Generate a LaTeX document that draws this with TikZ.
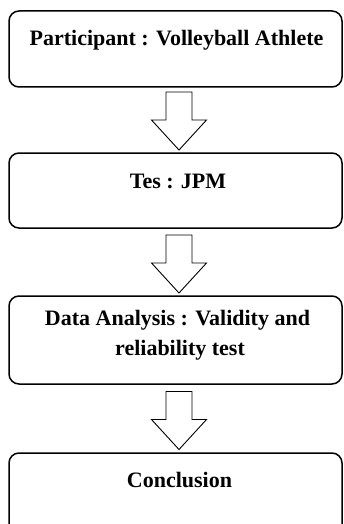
\documentclass[tikz,border=0pt]{standalone}
\usepackage{fontspec}
\setmainfont{Liberation Serif}
\begin{document}
\begin{tikzpicture}[x=1pt,y=-1pt,
  stagebox/.style={draw=black, line width=1.5pt, rounded corners=10pt, fill=white, inner sep=0pt},
  lbl/.style={font=\fontsize{22}{26}\selectfont\bfseries, inner sep=0pt, anchor=base},
  blockarrow/.pic={\draw[line width=0.9pt, fill=white, line join=miter] (-13,0) -- (13,0) -- (13,28) -- (27.5,28) -- (0,58) -- (-27.5,28) -- (-13,28) -- cycle;}]
\useasboundingbox (0,0) rectangle (343,524);
\clip (0,0) rectangle (343,524);
\node[stagebox, minimum width=333pt, minimum height=76pt] (b1) at (175.5,49) {};
\node[lbl] (t1) at (176.5,45.7) {Participant : Volleyball Athlete};
\node[stagebox, minimum width=333pt, minimum height=75pt] (b2) at (175.5,190.5) {};
\node[lbl] (t2) at (178,188.5) {Tes : JPM};
\node[stagebox, minimum width=333pt, minimum height=88pt] (b3) at (175.5,340) {};
\node[lbl] (t3a) at (177.5,325) {Data Analysis : Validity and};
\node[lbl] (t3b) at (180,355) {reliability test};
\node[stagebox, minimum width=333pt, minimum height=90pt] (b4) at (175.5,498) {};
\node[lbl] (t4) at (179.5,487.7) {Conclusion};
\pic at (179,92) {blockarrow};
\pic at (179,235) {blockarrow};
\pic at (179,391.5) {blockarrow};
\end{tikzpicture}
\end{document}
